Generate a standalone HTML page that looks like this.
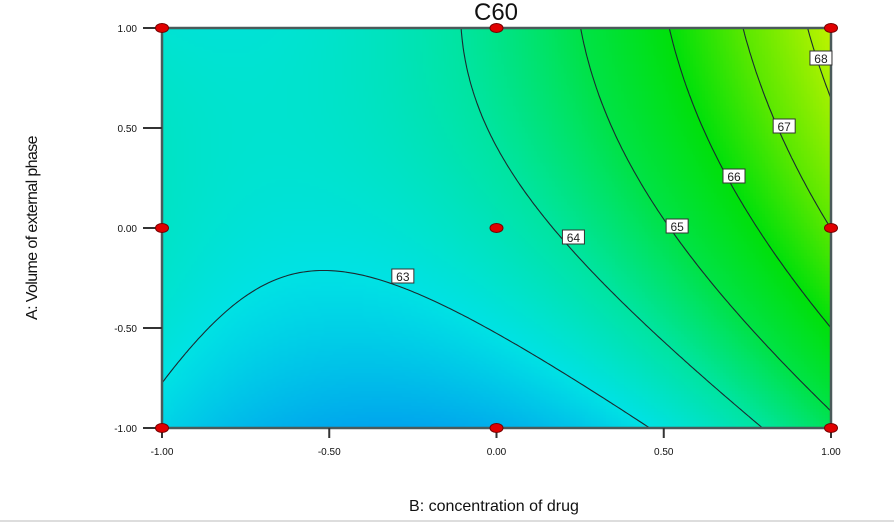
<!DOCTYPE html>
<html><head><meta charset="utf-8">
<style>
body{margin:0;background:#fff;width:894px;height:525px;overflow:hidden;font-family:"Liberation Sans",Arial,sans-serif;}
#wrap{position:relative;width:894px;height:525px;}
canvas{position:absolute;left:162px;top:28px;}
svg{position:absolute;left:0;top:0;}
</style></head>
<body>
<div id="wrap">
<canvas id="heat" width="669" height="400"></canvas>
<svg id="svg" width="894" height="525"></svg>
</div>
<script>
// contour-crossing readings from the picture: level, B, A
const sampleLevels = [63,63,63,63,63, 64,64,64,64, 65,65,65,65, 66,66,66,66, 67,67,67, 68,68];
const sampleB      = [-1,-0.75,-0.49,0,0.46, -0.12,0.0,0.19,0.79, 0.25,0.33,0.52,1, 0.52,0.61,0.74,1, 0.74,0.85,1, 0.93,1];
const sampleA      = [-0.8,-0.33,-0.2,-0.51,-1, 1,0.5,0,-1, 1,0.5,0,-0.916, 1,0.5,0,-0.47, 1,0.5,0.0, 1,0.66];
const contourLevels = [63,64,65,66,67,68];
const labelB = [-0.28,0.23,0.54,0.71,0.86,0.97];
const labelA = [-0.24,-0.045,0.01,0.26,0.51,0.85];
const xTicks = [-1,-0.5,0,0.5,1];
const yTicks = [-1,-0.5,0,0.5,1];
const designB = [-1,0,1,-1,0,1,-1,0,1];
const designA = [1,1,1,0,0,0,-1,-1,-1];

const X0=162,X1=831,Y0=28,Y1=428;
const xs=b=>X0+(b+1)/2*(X1-X0);
const ys=a=>Y1-(a+1)/2*(Y1-Y0);
const NS='http://www.w3.org/2000/svg';
const svg=document.getElementById('svg');
function mk(t,attrs){const e=document.createElementNS(NS,t);for(const k in attrs)e.setAttribute(k,attrs[k]);return e;}

function basis(a,b){return [1,a,b,a*b,a*a,b*b];}
const M=[...Array(6)].map(()=>Array(7).fill(0));
for(let i=0;i<sampleLevels.length;i++){const f=basis(sampleA[i],sampleB[i]);
 for(let r=0;r<6;r++){for(let c=0;c<6;c++)M[r][c]+=f[r]*f[c];M[r][6]+=f[r]*sampleLevels[i];}}
for(let i=0;i<6;i++){let p=i;for(let r=i+1;r<6;r++)if(Math.abs(M[r][i])>Math.abs(M[p][i]))p=r;[M[i],M[p]]=[M[p],M[i]];
 for(let r=0;r<6;r++){if(r===i)continue;const k=M[r][i]/M[i][i];for(let c=i;c<7;c++)M[r][c]-=k*M[i][c];}}
const coef=M.map((r,i)=>r[6]/r[i]);
const F=(a,b)=>basis(a,b).reduce((s,v,i)=>s+v*coef[i],0);

const cstops=[[61.9,[0,155,238]],[63,[0,226,228]],[64,[0,228,160]],[65,[0,226,70]],[66,[0,224,10]],[67,[90,232,0]],[68.6,[205,245,0]]];
function col(v){if(v<=cstops[0][0])return cstops[0][1];
 for(let i=1;i<cstops.length;i++){if(v<=cstops[i][0]){const t=(v-cstops[i-1][0])/(cstops[i][0]-cstops[i-1][0]);return cstops[i-1][1].map((c,j)=>Math.round(c+t*(cstops[i][1][j]-c)));}}
 return cstops[cstops.length-1][1];}
const ctx=document.getElementById('heat').getContext('2d');
for(let px=0;px<669;px+=3)for(let py=0;py<400;py+=3){
 const b=(px+1.5)/669*2-1,a=1-(py+1.5)/400*2;const c=col(F(a,b));
 ctx.fillStyle=`rgb(${c[0]},${c[1]},${c[2]})`;ctx.fillRect(px,py,3,3);}

const NX=170,NY=100;
const g=[];for(let j=0;j<=NY;j++){g[j]=[];for(let i=0;i<=NX;i++)g[j][i]=F(1-j/NY*2,i/NX*2-1);}
contourLevels.forEach(L=>{
 let d='';
 const P=(i,j)=>[X0+i/NX*(X1-X0),Y0+j/NY*(Y1-Y0)];
 const interp=(i1,j1,i2,j2)=>{const v1=g[j1][i1],v2=g[j2][i2],t=(L-v1)/(v2-v1);const p1=P(i1,j1),p2=P(i2,j2);return [p1[0]+t*(p2[0]-p1[0]),p1[1]+t*(p2[1]-p1[1])];};
 for(let j=0;j<NY;j++)for(let i=0;i<NX;i++){
  const pts=[];
  const e=[[i,j,i+1,j],[i+1,j,i+1,j+1],[i+1,j+1,i,j+1],[i,j+1,i,j]];
  e.forEach(q=>{const v1=g[q[1]][q[0]]-L,v2=g[q[3]][q[2]]-L;if((v1<0)!==(v2<0))pts.push(interp(...q));});
  for(let k=0;k+1<pts.length;k+=2)d+=`M${pts[k][0].toFixed(1)},${pts[k][1].toFixed(1)}L${pts[k+1][0].toFixed(1)},${pts[k+1][1].toFixed(1)}`;
 }
 const p=mk('path',{d:d,stroke:'#1a2a30','stroke-width':1.1,fill:'none'});
 
 
 svg.appendChild(p);
});
const fr=mk('rect',{x:X0,y:Y0,width:X1-X0,height:Y1-Y0,fill:'none',stroke:'#4a5a5a','stroke-width':2.5});


svg.appendChild(fr);
contourLevels.forEach((L,i)=>{
 const x=xs(labelB[i]),y=ys(labelA[i]);
 const r=mk('rect',{x:x-11,y:y-7,width:22,height:14,fill:'#fff',stroke:'#333','stroke-width':1});
 
 
 svg.appendChild(r);
 const t=mk('text',{x:x,y:y+5,'text-anchor':'middle','font-size':12,fill:'#222'});t.textContent=L;
 
 
 svg.appendChild(t);
});
xTicks.forEach(v=>{const x=xs(v);
 const l=mk('line',{x1:x,x2:x,y1:Y1,y2:Y1+10,stroke:'#333','stroke-width':2});
 
 
 svg.appendChild(l);
 const t=mk('text',{x:x,y:Y1+27,'text-anchor':'middle','font-size':10,fill:'#111'});t.textContent=v.toFixed(2);
 
 
 svg.appendChild(t);});
yTicks.forEach(v=>{const y=ys(v);
 const l=mk('line',{x1:X0-19,x2:X0,y1:y,y2:y,stroke:'#333','stroke-width':2});
 
 
 svg.appendChild(l);
 const t=mk('text',{x:X0-25,y:y+4,'text-anchor':'end','font-size':10,fill:'#111'});t.textContent=v.toFixed(2);
 
 
 svg.appendChild(t);});
designB.forEach((b,i)=>{
 const e=mk('ellipse',{cx:xs(b),cy:ys(designA[i]),rx:6.5,ry:4.5,fill:'#e00000',stroke:'#700','stroke-width':1});
 
 
 svg.appendChild(e);});
const tt=mk('text',{x:496,y:20,'text-anchor':'middle','font-size':24,fill:'#111'});tt.textContent='C60';


svg.appendChild(tt);
const xt=mk('text',{x:494,y:511,'text-anchor':'middle','font-size':16,fill:'#111'});xt.textContent='B: concentration of drug';


svg.appendChild(xt);
const yt=mk('text',{x:0,y:0,'text-anchor':'middle','font-size':16,fill:'#111','letter-spacing':'-0.6',transform:'translate(37,228) rotate(-90)'});yt.textContent='A: Volume of external phase';


svg.appendChild(yt);
const bl=mk('line',{x1:0,x2:894,y1:521,y2:521,stroke:'#ddd','stroke-width':2});


svg.appendChild(bl);
</script>
</body></html>
